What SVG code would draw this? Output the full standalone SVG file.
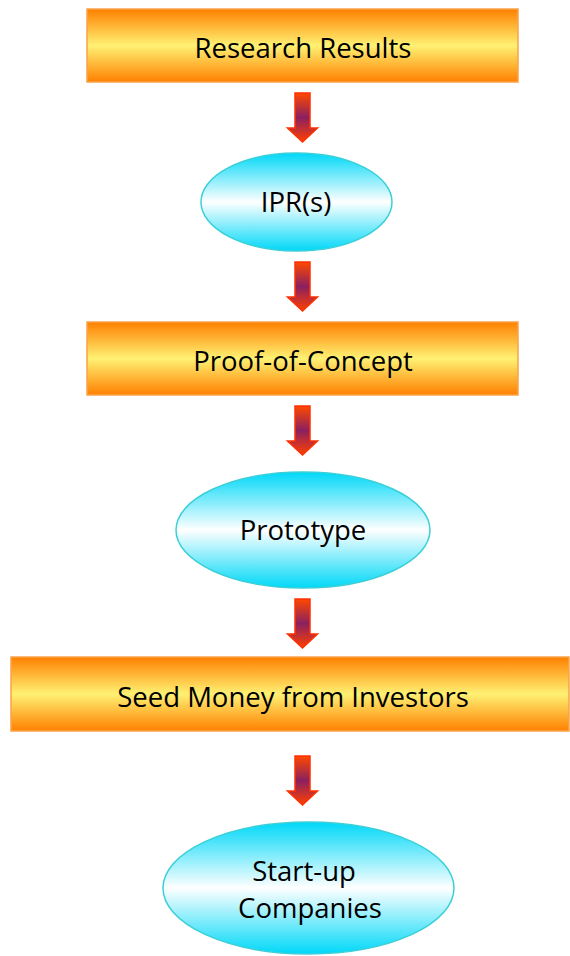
<svg xmlns="http://www.w3.org/2000/svg" width="570" height="956" viewBox="0 0 570 956">
<defs>
<linearGradient id="gR" x1="0" y1="0" x2="0" y2="1">
<stop offset="0" stop-color="#FF8000"/>
<stop offset="0.5" stop-color="#FFF173"/>
<stop offset="1" stop-color="#FF8000"/>
</linearGradient>
<linearGradient id="gE" x1="0" y1="0" x2="0" y2="1">
<stop offset="0" stop-color="#00D8F8"/>
<stop offset="0.5" stop-color="#FFFFFF"/>
<stop offset="1" stop-color="#00D8F8"/>
</linearGradient>
<linearGradient id="gA2" x1="0" y1="0" x2="0" y2="1">
<stop offset="0" stop-color="#FF4800"/>
<stop offset="0.5" stop-color="#8A2060"/>
<stop offset="1" stop-color="#FF4000"/>
</linearGradient>
<path id="arr" d="M-7.5,0 H7.5 V35 H15 L0,49 L-15,35 H-7.5 Z"/>
</defs>
<style>
.box{fill:url(#gR);stroke:#F9A34A;stroke-width:1.5}
.ell{fill:url(#gE);stroke:#3CCFD8;stroke-width:1.5}
.lbl{font-family:"Open Sans","Liberation Sans",sans-serif;font-size:27.5px;fill:#000;text-anchor:middle}
.ar{fill:url(#gA2);stroke:#FF3000;stroke-width:1.5}
</style>
<g id="connectors">
<use href="#arr" class="ar" x="302.5" y="93"/>
<use href="#arr" class="ar" x="302.5" y="262"/>
<use href="#arr" class="ar" x="302.5" y="406"/>
<use href="#arr" class="ar" x="302.5" y="599"/>
<use href="#arr" class="ar" x="302.5" y="756"/>
</g>
<g id="n1">
<rect class="box" x="87" y="9" width="431" height="73"/>
<text class="lbl" x="303" y="58">Research Results</text>
</g>
<g id="n2">
<ellipse class="ell" cx="296.5" cy="202" rx="95.5" ry="49"/>
<text class="lbl" x="296" y="212">IPR(s)</text>
</g>
<g id="n3">
<rect class="box" x="87" y="322" width="431" height="73"/>
<text class="lbl" x="303" y="371">Proof-of-Concept</text>
</g>
<g id="n4">
<ellipse class="ell" cx="303" cy="530" rx="127" ry="58"/>
<text class="lbl" x="303" y="540">Prototype</text>
</g>
<g id="n5">
<rect class="box" x="11" y="657" width="558" height="74"/>
<text class="lbl" x="293" y="707">Seed Money from Investors</text>
</g>
<g id="n6">
<ellipse class="ell" cx="308.5" cy="888" rx="145.5" ry="66"/>
<text class="lbl" x="304" y="881">Start-up</text>
<text class="lbl" x="310" y="918">Companies</text>
</g>
</svg>
